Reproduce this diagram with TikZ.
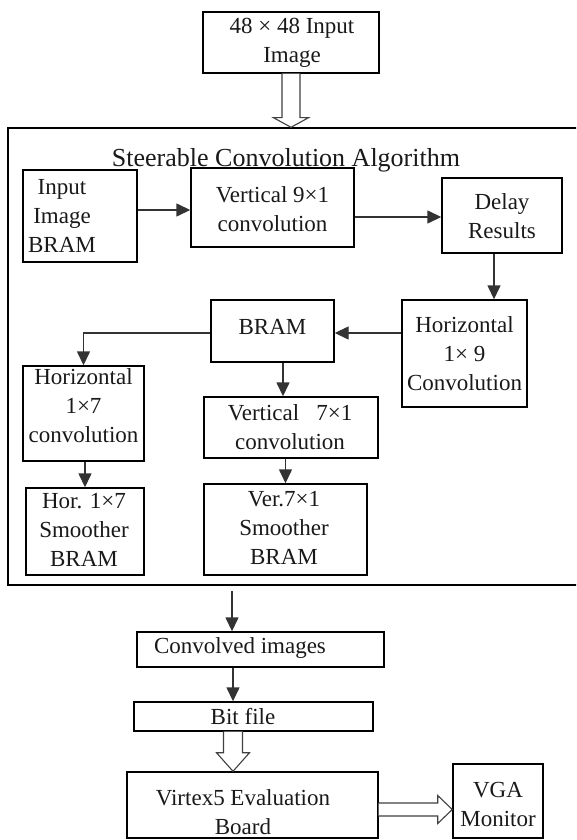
\documentclass[tikz,border=0pt]{standalone}
\usepackage{fontspec}
\setmainfont{Liberation Serif}
\usetikzlibrary{arrows.meta,calc}
\begin{document}
\begin{tikzpicture}[x=1pt,y=-1pt,
  box/.style={draw=black,line width=1.4pt,inner sep=0pt},
  txt/.style={inner sep=0pt,align=center,text=black!90,font=\fontsize{23}{29}\selectfont},
  arr/.style={draw=black!80,line width=1.4pt,-{Triangle[length=14pt,width=13pt]}},
  hollow/.style={draw=black!75,line width=1.1pt,fill=white,line join=miter}]
\useasboundingbox (0,0) rectangle (576,840);
\clip (0,0) rectangle (576,840);

% input image
\node[box,minimum width=176pt,minimum height=61pt] (top) at (291,42.5) {};
\node[txt] (top-t) at (292,43) {48 × 48 Input\\Image};

% algorithm frame
\node[box,minimum width=572pt,minimum height=457pt] (frame) at (294,356.5) {};
\draw[hollow] ($(top.south)+(-9,0)$) -- ($(top.south)+(-9,44)$) -- ($(top.south)+(-17.5,44)$)
  -- (frame.north -| top.south) -- ($(top.south)+(17.5,44)$) -- ($(top.south)+(9,44)$)
  -- ($(top.south)+(9,0)$);
\node[txt,font=\fontsize{26}{30}\selectfont] (title) at (286,160) {Steerable Convolution Algorithm};

% first row
\node[box,minimum width=114pt,minimum height=92pt] (inbram) at (80,216) {};
\node[txt] (inbram-t) at (62,216) {Input\\Image\\BRAM};
\node[box,minimum width=163pt,minimum height=79pt] (vconv9) at (272.5,207.5) {};
\node[txt] (vconv9-t) at (272.5,209) {Vertical 9×1\\convolution};
\node[box,minimum width=120pt,minimum height=75pt] (delay) at (502,215.5) {};
\node[txt] (delay-t) at (502,216.5) {Delay\\Results};

% second row
\node[box,minimum width=123pt,minimum height=62pt] (bram) at (272.5,331) {};
\node[txt] (bram-t) at (272.5,327) {BRAM};
\node[box,minimum width=125pt,minimum height=107pt] (h19) at (464.5,353.5) {};
\node[txt] (h19-t) at (464.5,354) {Horizontal\\1× 9\\Convolution};

% smoothing branches
\node[box,minimum width=121pt,minimum height=95pt] (h17) at (83.5,413.5) {};
\node[txt] (h17-t) at (83.5,406) {Horizontal\\1×7\\convolution};
\node[box,minimum width=174pt,minimum height=61pt] (v71) at (291,427.5) {};
\node[txt] (v71-t) at (290,427) {Vertical\hspace{17pt}7×1\\convolution};
\node[box,minimum width=118pt,minimum height=87pt] (hsm) at (85,531.5) {};
\node[txt] (hsm-t) at (84,530) {Hor. 1×7\\Smoother\\BRAM};
\node[box,minimum width=163pt,minimum height=91pt] (vsm) at (285.5,529.5) {};
\node[txt] (vsm-t) at (284,528) {Ver.7×1\\Smoother\\BRAM};

% arrows inside the frame
\path ([yshift=6pt]inbram.east) coordinate (a1);
\draw[arr] (a1) -- (a1 -| vconv9.west);
\path ([yshift=-9.5pt]vconv9.east) coordinate (a2);
\draw[arr] (a2) -- (a2 -| delay.west);
\path ([xshift=-8pt]delay.south) coordinate (a3);
\draw[arr] (a3) -- (a3 |- h19.north);
\path ([yshift=20.5pt]h19.west) coordinate (a4);
\draw[arr] (a4) -- (a4 -| bram.east);
\draw[arr] (a4 -| bram.west) -| (h17.north);
\path ([xshift=10.5pt]bram.south) coordinate (a5);
\draw[arr] (a5) -- (a5 |- v71.north);
\draw[arr] (h17.south -| hsm.north) -- (hsm.north);
\draw[arr] (v71.south -| vsm.north) -- (vsm.north);

% output chain
\node[box,minimum width=247pt,minimum height=35pt] (conv) at (260.5,649.5) {};
\node[txt] (conv-t) at (240,648) {Convolved images};
\node[box,minimum width=239pt,minimum height=29pt] (bit) at (253.5,716.5) {};
\node[txt] (bit-t) at (243,717) {Bit file};
\node[box,minimum width=251pt,minimum height=66pt] (virtex) at (252.5,805) {};
\node[txt] (virtex-t) at (243,812.5) {Virtex5 Evaluation\\Board};
\node[box,minimum width=90pt,minimum height=74pt] (vga) at (498,801) {};
\node[txt] (vga-t) at (498,804.5) {VGA\\Monitor};

\coordinate (c0) at (232,591);
\draw[arr] (c0) -- (c0 |- conv.north);
\path ([xshift=-27.5pt]conv.south) coordinate (a6);
\draw[arr] (a6) -- (a6 |- bit.north);

% hollow arrow from the bit file to the board
\path ([xshift=-20.5pt]bit.south) coordinate (b0);
\draw[hollow] ($(b0)+(-9.5,0)$) -- ($(b0)+(-9.5,21)$) -- ($(b0)+(-16.5,21)$)
  -- (b0 |- virtex.north) -- ($(b0)+(16.5,21)$) -- ($(b0)+(9.5,21)$) -- ($(b0)+(9.5,0)$);

% hollow arrow from the board to the monitor
\path ([yshift=-4.5pt]virtex.east) coordinate (m0);
\draw[hollow] ($(m0)+(0,-6.5)$) -- ($(m0)+(59,-6.5)$) -- ($(m0)+(59,-14)$)
  -- (m0 -| vga.west) -- ($(m0)+(59,14)$) -- ($(m0)+(59,6.5)$) -- ($(m0)+(0,6.5)$);
\end{tikzpicture}
\end{document}
